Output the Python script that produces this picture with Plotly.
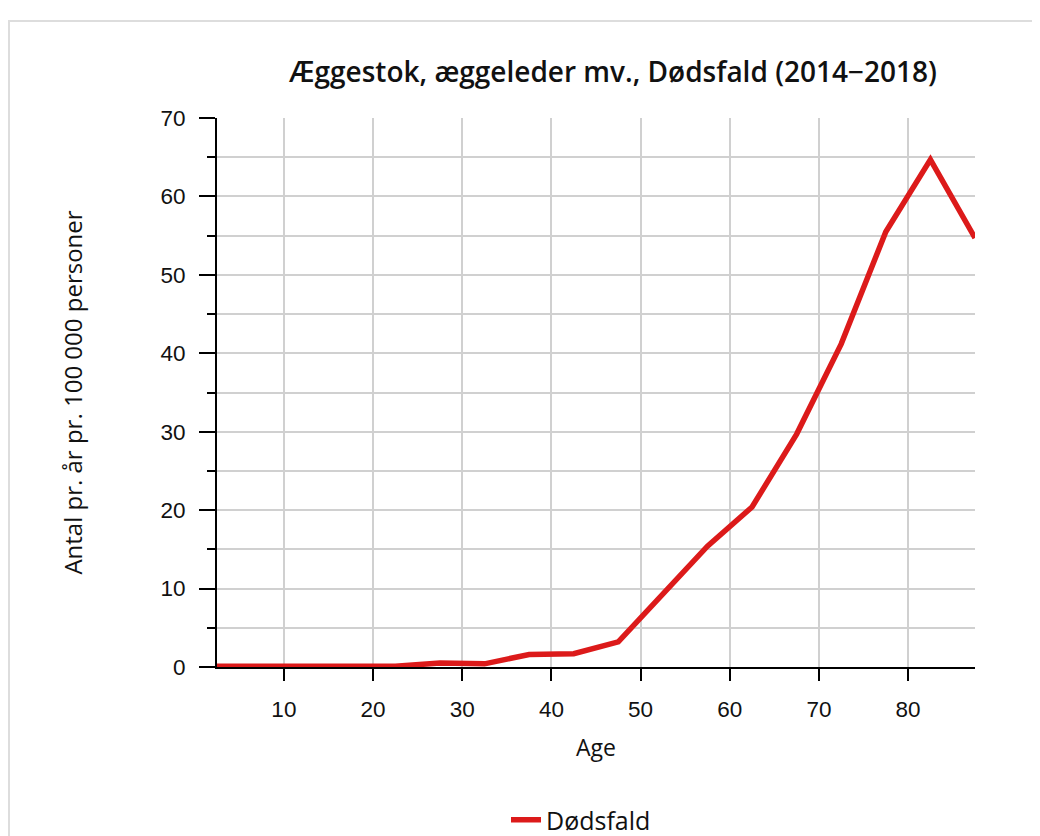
import plotly.graph_objects as go

ages = [2.5, 7.5, 12.5, 17.5, 22.5, 27.5, 32.5, 37.5, 42.5, 47.5,
        52.5, 57.5, 62.5, 67.5, 72.5, 77.5, 82.5, 87.5]
deaths = [0.1, 0.1, 0.1, 0.2, 0.1, 0.5, 0.4, 1.6, 1.7, 3.2,
          9.2, 15.4, 20.4, 29.7, 41.2, 55.5, 64.7, 54.7]
x_ticks = [10, 20, 30, 40, 50, 60, 70, 80]
y_ticks = [0, 10, 20, 30, 40, 50, 60, 70]
series_name = "Dødsfald"
title = "Æggestok, æggeleder mv., Dødsfald (2014−2018)"

W, H = 1032, 828
L, R, T, B = 209, 65, 110, 169
pw = W - L - R
ph = H - T - B

fig = go.Figure()
fig.add_trace(go.Scatter(x=ages, y=deaths, mode="lines", name=series_name,
                         line=dict(color="#dc1a1a", width=5.5)))

fig.update_layout(
    width=W, height=H,
    margin=dict(l=L, r=R, t=T, b=B, autoexpand=False),
    paper_bgcolor="white", plot_bgcolor="white",
    title=dict(text=title, x=605 / W, xanchor="center",
               y=1 - 64 / H, yanchor="middle",
               font=dict(family="Open Sans", size=28, weight=600, color="#111")),
    showlegend=True,
    legend=dict(orientation="h", x=0.5 - 15 / pw, xanchor="center",
                y=-(812 - (H - B)) / ph, yanchor="middle",
                font=dict(family="Open Sans", size=25, color="#111")),
    xaxis=dict(range=[2.5, 87.5], tickvals=x_ticks, ticks="outside", ticklen=12,
               tickwidth=2, tickcolor="black", showline=True, linecolor="black",
               linewidth=2, showgrid=True, gridcolor="#d0d0d0", gridwidth=2,
               zeroline=False, ticklabelstandoff=9,
               tickfont=dict(family="Liberation Sans", size=22.5, color="#111"),
               title=dict(text="Age", standoff=19,
                          font=dict(family="Open Sans", size=23, color="#111"))),
    yaxis=dict(range=[0, 70], tickvals=y_ticks, ticks="outside", ticklen=16,
               tickwidth=2, tickcolor="black", showline=True, linecolor="black",
               linewidth=2, showgrid=True, gridcolor="#d0d0d0", gridwidth=2,
               zeroline=False, ticklabelstandoff=9,
               minor=dict(dtick=5, tick0=0, ticks="outside", ticklen=8, tickwidth=2,
                          tickcolor="black", showgrid=True, gridcolor="#d0d0d0",
                          gridwidth=2),
               tickfont=dict(family="Liberation Sans", size=22.5, color="#111"),
               title=dict(text="Antal pr. år pr. 100 000 personer", standoff=71,
                          font=dict(family="Open Sans", size=24, color="#111"))),
)

# outer frame
fig.add_shape(type="rect", xref="paper", yref="paper",
              x0=(1 - L) / pw, x1=(W + 5 - L) / pw,
              y0=-(H + 5 - T - ph) / ph, y1=(H - 13 - B) / ph,
              line=dict(color="#dddddd", width=2), fillcolor="rgba(0,0,0,0)",
              layer="below")

fig.write_html("out.html")
